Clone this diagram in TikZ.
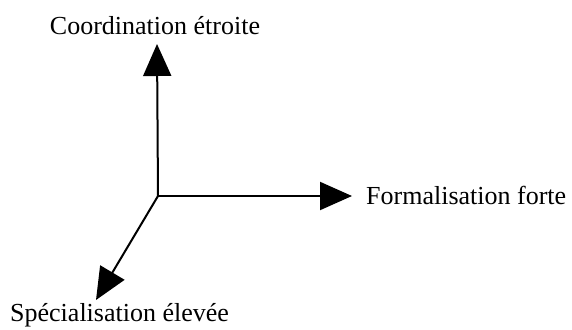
\documentclass[tikz,border=0pt]{standalone}
\usepackage{fontspec}
\setmainfont{Liberation Serif}
\usetikzlibrary{arrows.meta}
\begin{document}
\begin{tikzpicture}[x=1pt,y=-1pt,
  axis/.style={line width=2pt,-{Triangle[length=32pt,width=28pt]}},
  lbl/.style={inner sep=0pt,font=\fontsize{26}{31}\selectfont}]
\useasboundingbox (0,0) rectangle (572,329);
\coordinate (O) at (158,196);
\coordinate (up) at (157,44);
\coordinate (right) at (352,196);
\coordinate (diag) at (96,300);
\draw[axis] (O) -- (up);
\draw[axis] (O) -- (right);
\draw[axis] (O) -- (diag);
\node[lbl,anchor=base] (coord) at (155,35) {Coordination étroite};
\node[lbl,anchor=base west] (form) at (366,204) {Formalisation forte};
\node[lbl,anchor=base west] (spec) at (10,321) {Spécialisation élevée};
\end{tikzpicture}
\end{document}
